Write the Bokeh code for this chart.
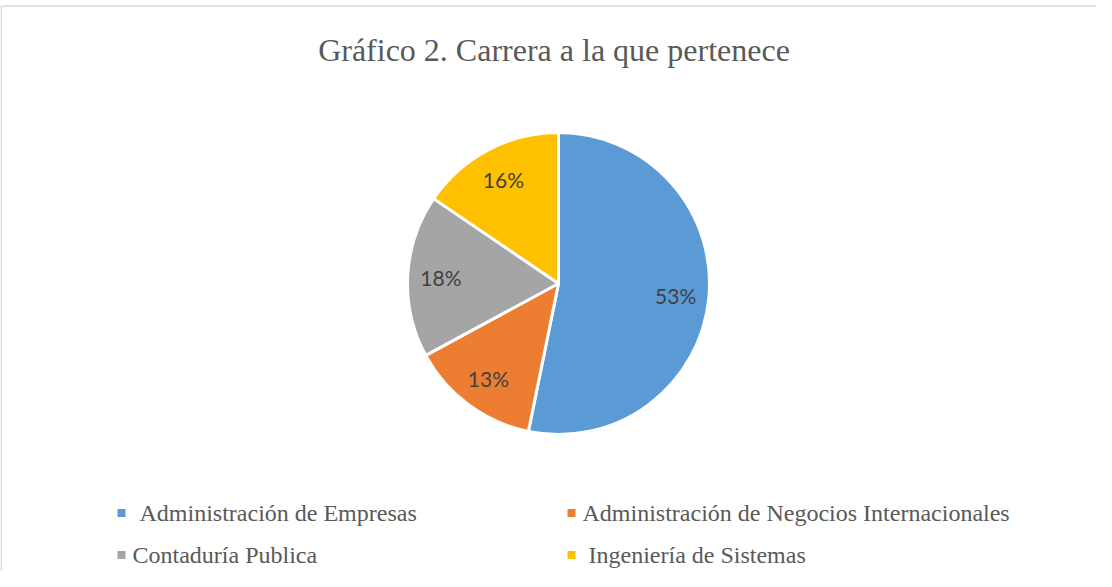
import numpy as np
from bokeh.plotting import figure
from bokeh.models import ColumnDataSource, Range1d
from bokeh.core.properties import value
from bokeh.embed import file_html
from bokeh.resources import INLINE

# ---- data ----
title_text = "Gráfico 2. Carrera a la que pertenece"
categories = [
    "Administración de Empresas",
    "Administración de Negocios Internacionales",
    "Contaduría Publica",
    "Ingeniería de Sistemas",
]
shares = [53.2, 13.9, 17.4, 15.5]
pct_labels = ["53%", "13%", "18%", "16%"]
colors = ["#5B9BD5", "#ED7D31", "#A5A5A5", "#FFC000"]

# ---- layout ----
W, H = 1096, 571
p = figure(width=W, height=H, x_range=Range1d(0, W), y_range=Range1d(0, H),
           output_backend="svg", toolbar_location=None, min_border=0,
           x_axis_type=None, y_axis_type=None)
p.grid.visible = False
p.outline_line_color = None
p.background_fill_color = "white"
p.border_fill_color = "white"

# chart border (left and top visible)
p.line(x=[0.75, 0.75, W + 5], y=[-10, 565.5, 565.5], line_color="#D9D9D9", line_width=1.5)

# title
p.text(x=[553.5], y=[521.5], text=[title_text], text_align="center", text_baseline="middle",
       text_font=value("Liberation Serif"), text_font_size="32px", text_color="#595959")

# pie
cx, cy, R = 558, 288, 151
frac = np.array(shares) / np.sum(shares)
cum = np.cumsum(frac)
prev = np.concatenate([[0], cum[:-1]])
start = np.pi / 2 - 2 * np.pi * prev
end = np.pi / 2 - 2 * np.pi * cum
mid = (start + end) / 2
src = ColumnDataSource(dict(start=start, end=end, color=colors,
                            lx=cx + 0.78 * R * np.cos(mid), ly=cy + 0.78 * R * np.sin(mid),
                            lab=pct_labels))
p.wedge(x=cx, y=cy, radius=R, start_angle="start", end_angle="end", direction="clock",
        fill_color="color", line_color="white", line_width=3, source=src)
p.text(x="lx", y="ly", text="lab", source=src, text_align="center", text_baseline="middle",
       text_font=value("Lato"), text_font_size="21px", text_color="#404040")

# legend (2 x 2 grid)
col_sq = [121, 571]
row_y = [58.5, 16.5]
text_gap = [18, 11, 11, 17]   # gap between marker and label (original has leading spaces)
lsrc = dict(sx=[], sy=[], tx=[], t=[], c=[])
for i, (cat, col) in enumerate(zip(categories, colors)):
    r, c = divmod(i, 2)
    lsrc["sx"].append(col_sq[c]); lsrc["sy"].append(row_y[r])
    lsrc["tx"].append(col_sq[c] + text_gap[i])
    lsrc["t"].append(cat); lsrc["c"].append(col)
ls = ColumnDataSource(lsrc)
p.scatter(x="sx", y="sy", marker="square", size=8, fill_color="c", line_color=None, source=ls)
p.text(x="tx", y="sy", text="t", source=ls, text_align="left", text_baseline="middle",
       text_font=value("Liberation Serif"), text_font_size="24px", text_color="#595959")

open("out.html", "w").write(file_html(p, INLINE))
